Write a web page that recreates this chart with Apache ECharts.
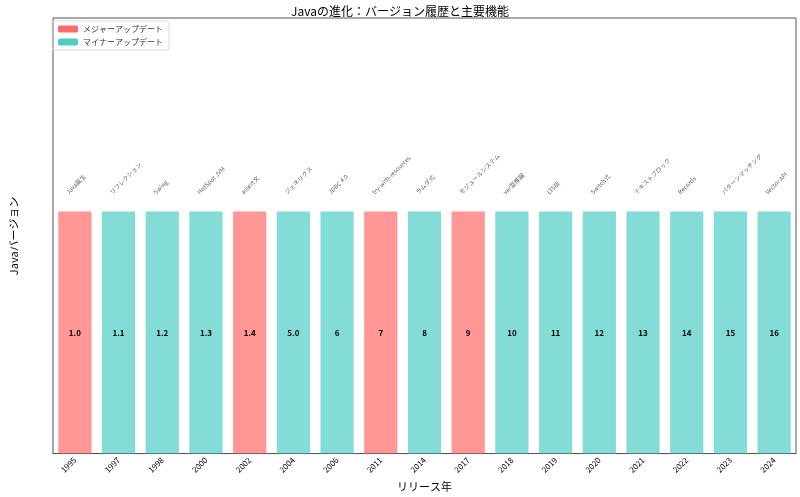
<!DOCTYPE html>
<html><head><meta charset="utf-8">
<script src="https://cdn.jsdelivr.net/npm/echarts@6/dist/echarts.min.js"></script>
<style>html,body{margin:0;padding:0;background:#fff}#c{width:800px;height:497px}</style>
</head><body><div id="c"></div>
<script>
var years = ['1995','1997','1998','2000','2002','2004','2006','2011','2014','2017','2018','2019','2020','2021','2022','2023','2024'];
var versions = ['1.0','1.1','1.2','1.3','1.4','5.0','6','7','8','9','10','11','12','13','14','15','16'];
var features = ['Java誕生','リフレクション','Swing','HotSpot JVM','assert文','ジェネリクス','JDBC 4.0','try-with-resources','ラムダ式','モジュールシステム','var型推論','LTS版','Switch式','テキストブロック','Records','パターンマッチング','Vector API'];
var majorFlags = [1,0,0,0,1,0,0,1,0,1,0,0,0,0,0,0,0];
var barValues = [1,1,1,1,1,1,1,1,1,1,1,1,1,1,1,1,1];

var font = '"Noto Sans CJK JP","DejaVu Sans",sans-serif';
var majorColor = 'rgba(255,107,107,0.7)';
var minorColor = 'rgba(78,205,196,0.7)';

var barData = [];
var noteData = [];
for (var i = 0; i < years.length; i++) {
	barData.push({
		value: barValues[i],
		itemStyle: { color: majorFlags[i] ? majorColor : minorColor },
		label: { formatter: versions[i] }
	});
	noteData.push({ value: barValues[i], label: { formatter: features[i] } });
}

var myChart = echarts.init(document.getElementById('c'));
var option = {
	animation: false,
	textStyle: { fontFamily: font },
	title: { text: 'Javaの進化：バージョン履歴と主要機能', left: 'center', top: 0,
		textStyle: { fontSize: 12, fontWeight: 'normal', color: '#000', fontFamily: font } },
	legend: {
		left: 52, top: 21, orient: 'vertical', itemWidth: 20, itemHeight: 7, itemGap: 5,
		borderColor: '#ddd', borderWidth: 1, borderRadius: 2, padding: [4, 6],
		textStyle: { fontSize: 8, color: '#333' },
		data: [
			{ name: 'メジャーアップデート', itemStyle: { color: '#ff6b6b' } },
			{ name: 'マイナーアップデート', itemStyle: { color: '#4ecdc4' } }
		]
	},
	grid: { left: 46, right: 4, top: 18, bottom: 38, show: true, borderColor: '#555', borderWidth: 1 },
	xAxis: {
		type: 'category', data: years,
		name: 'リリース年', nameLocation: 'middle', nameGap: 27,
		nameTextStyle: { fontSize: 11, color: '#000' },
		axisTick: { alignWithLabel: true, length: 3 },
		axisLine: { lineStyle: { color: '#555' } },
		axisLabel: { rotate: 45, fontSize: 8, color: '#000', margin: 5 }
	},
	yAxis: {
		type: 'value', min: 0, max: 1.8,
		name: 'Javaバージョン', nameLocation: 'middle', nameGap: 34,
		nameTextStyle: { fontSize: 11, color: '#000' },
		axisLabel: { show: false }, axisTick: { show: false },
		splitLine: { show: false }, axisLine: { show: false }
	},
	series: [
		{
			type: 'bar', data: barData, barCategoryGap: '24%', barGap: '-100%',
			label: { show: true, position: 'inside', fontSize: 8, fontWeight: 'bold', color: '#000' }
		},
		{
			type: 'scatter', data: noteData, symbolSize: 0, silent: true,
			label: { show: true, position: 'top', distance: 22, rotate: 45, align: 'left',
				offset: [-8, 0], fontSize: 6, color: '#333' }
		},
		{ name: 'メジャーアップデート', type: 'bar', data: [], barGap: '-100%' },
		{ name: 'マイナーアップデート', type: 'bar', data: [], barGap: '-100%' }
	]
};
myChart.setOption(option);
</script></body></html>
